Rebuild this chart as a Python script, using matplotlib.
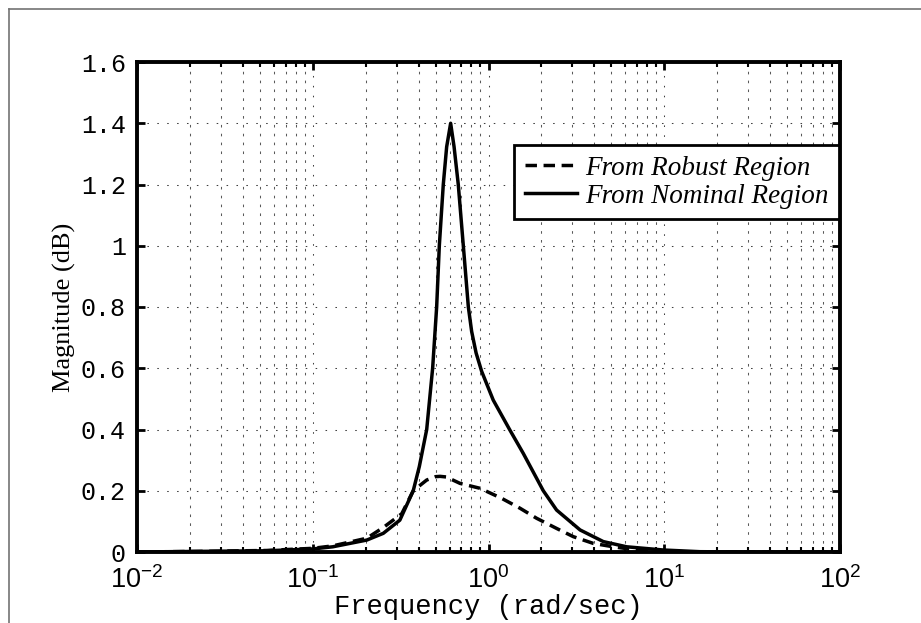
import matplotlib
matplotlib.use("Agg")
import matplotlib.pyplot as plt
from matplotlib.lines import Line2D
from matplotlib.ticker import FixedLocator, LogLocator, NullFormatter

# ---- data ----
freq_nominal = [0.01, 0.0228, 0.0547, 0.100, 0.130, 0.203, 0.252, 0.313, 0.373, 0.404,
                0.445, 0.481, 0.507, 0.525, 0.553, 0.578, 0.609, 0.637, 0.673, 0.719,
                0.768, 0.802, 0.850, 0.914, 1.064, 1.324, 1.577, 2.05, 2.44, 3.32, 4.50,
                6.11, 9.89, 15.96, 30.0, 100.0]
mag_nominal = [0.0, 0.002, 0.004, 0.010, 0.017, 0.039, 0.061, 0.104, 0.200, 0.279,
               0.40, 0.60, 0.80, 1.00, 1.20, 1.323, 1.40, 1.323, 1.20, 1.00,
               0.80, 0.72, 0.65, 0.59, 0.496, 0.398, 0.322, 0.200, 0.137, 0.072, 0.034,
               0.017, 0.0065, 0.001, 0.0, 0.0]

freq_robust = [0.01, 0.0228, 0.0547, 0.100, 0.130, 0.203, 0.252, 0.321, 0.373, 0.445,
               0.50, 0.530, 0.575, 0.689, 0.895, 1.19, 1.51, 1.88, 2.44, 3.04,
               3.95, 5.13, 6.97, 10.0, 16.0, 100.0]
mag_robust = [0.0, 0.002, 0.005, 0.012, 0.020, 0.045, 0.080, 0.125, 0.200, 0.235,
              0.246, 0.247, 0.245, 0.224, 0.208, 0.175, 0.143, 0.110, 0.077, 0.050,
              0.028, 0.017, 0.0065, 0.002, 0.0, 0.0]

y_ticks = [0, 0.2, 0.4, 0.6, 0.8, 1.0, 1.2, 1.4, 1.6]
y_tick_labels = ["0", "0.2", "0.4", "0.6", "0.8", "1", "1.2", "1.4", "1.6"]
x_ticks = [1e-2, 1e-1, 1e0, 1e1, 1e2]
x_tick_labels = [r"$\mathdefault{10^{-2}}$", r"$\mathdefault{10^{-1}}$", r"$\mathdefault{10^{0}}$",
                 r"$\mathdefault{10^{1}}$", r"$\mathdefault{10^{2}}$"]
label_robust = "From Robust Region"
label_nominal = "From Nominal Region"
xlabel = "Frequency (rad/sec)"
ylabel = "Magnitude (dB)"

W, H = 921, 623
fig = plt.figure(figsize=(W / 100, H / 100), dpi=100)
L, R, T, B = 137, 840, 62, 552
ax = fig.add_axes([L / W, 1 - B / H, (R - L) / W, (B - T) / H])

ax.plot(freq_robust, mag_robust, color="k", lw=2.5, linestyle=(0, (3.3, 1.9)), label=label_robust)
ax.plot(freq_nominal, mag_nominal, color="k", lw=2.5, label=label_nominal)

ax.set_xscale("log")
ax.set_xlim(1e-2, 1e2)
ax.set_ylim(0, 1.6)

ax.yaxis.set_major_locator(FixedLocator(y_ticks))
ax.set_yticklabels(y_tick_labels, fontfamily="Liberation Mono", fontsize=18)
ax.xaxis.set_major_locator(FixedLocator(x_ticks))
ax.set_xticklabels(x_tick_labels, fontfamily="Liberation Sans", fontsize=19.5)
ax.xaxis.set_minor_locator(LogLocator(base=10, subs=range(2, 10), numticks=20))
ax.xaxis.set_minor_formatter(NullFormatter())

ax.tick_params(which="major", direction="in", length=6, width=2, top=True, right=True)
ax.tick_params(which="minor", direction="in", length=3.5, width=1.5, top=True, right=True)
ax.tick_params(axis="y", pad=8)
ax.tick_params(axis="x", pad=10)

ax.grid(True, which="major", color="0.25", lw=0.75, linestyle=(0, (1.5, 8)))
ax.grid(True, which="minor", axis="x", color="0.35", lw=0.75, linestyle=(0, (2.5, 6)))

for s in ax.spines.values():
    s.set_linewidth(2.8)

ax.set_xlabel(xlabel, fontfamily="Liberation Mono", fontsize=19.5, labelpad=0)
ax.set_ylabel(ylabel, fontfamily="Liberation Serif", fontsize=19, labelpad=3.5)

leg = ax.legend(loc="upper right", bbox_to_anchor=((839 - L) / (R - L), (B - 145) / (B - T)),
                borderaxespad=0, frameon=True, fancybox=False, edgecolor="k", framealpha=1,
                prop={"family": "Liberation Serif", "style": "italic", "size": 19.5},
                handlelength=1.9, handletextpad=0.3, borderpad=0.4, labelspacing=0.1)
leg.get_frame().set_linewidth(2.0)

# outer figure border (left and top only visible)
fig.add_artist(Line2D([9 / W, 9 / W], [0, 1 - 9 / H], transform=fig.transFigure, color="0.45", lw=1.2))
fig.add_artist(Line2D([9 / W, 1], [1 - 9 / H, 1 - 9 / H], transform=fig.transFigure, color="0.45", lw=1.2))

fig.savefig("out.png", dpi=100, facecolor="white")
